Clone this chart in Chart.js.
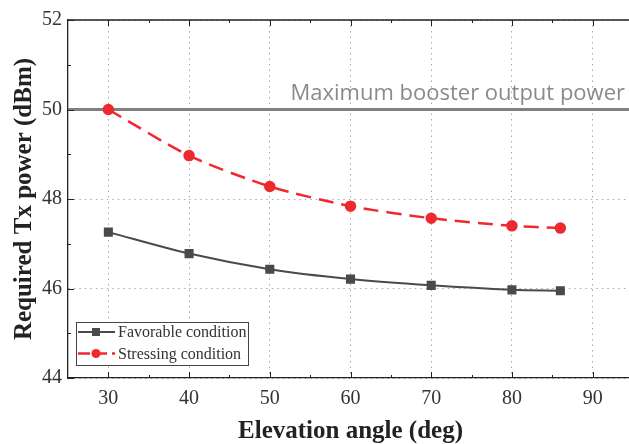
<!DOCTYPE html>
<html>
<head>
<meta charset="utf-8">
<script src="https://cdn.jsdelivr.net/npm/chart.js@4"></script>
<style>
  html, body { margin: 0; padding: 0; background: #fff; overflow: hidden; }
  #wrap { width: 640px; height: 444px; }
</style>
</head>
<body>
<div id="wrap"><canvas id="chart"></canvas></div>
<script>
// elevation angles (deg)
const angles = [30, 40, 50, 60, 70, 80, 86];
// required Tx power (dBm)
const favorable = [47.26, 46.78, 46.43, 46.21, 46.07, 45.97, 45.95];
const stressing = [50.0, 48.97, 48.28, 47.84, 47.57, 47.40, 47.35];
// max booster output power
const maxPower = 50;
const maxLabel = 'Maximum booster output power';

const xTicks = [30, 40, 50, 60, 70, 80, 90];
const xMinor = [35, 45, 55, 65, 75, 85];
const yTicks = [44, 46, 48, 50, 52];
const yMinor = [45, 47, 49, 51];

const serif = "'Liberation Serif', 'Times New Roman', serif";

const pts = (ys) => angles.map((a, i) => ({ x: a, y: ys[i] }));

// frame, inward ticks, max label, legend
const extras = {
  id: 'extras',
  afterDraw(chart) {
    const { ctx, chartArea: ca, scales: { x, y } } = chart;
    ctx.save();
    ctx.strokeStyle = '#222';
    ctx.lineWidth = 1.3;
    // top/right frame
    ctx.beginPath();
    ctx.moveTo(ca.left, ca.top); ctx.lineTo(ca.right, ca.top); ctx.lineTo(ca.right, ca.bottom);
    ctx.stroke();
    // inward ticks
    ctx.lineWidth = 1;
    ctx.beginPath();
    xTicks.forEach(v => {
      const px = Math.round(x.getPixelForValue(v)) + 0.5;
      ctx.moveTo(px, ca.bottom); ctx.lineTo(px, ca.bottom - 6);
      ctx.moveTo(px, ca.top); ctx.lineTo(px, ca.top + 6);
    });
    xMinor.forEach(v => {
      const px = Math.round(x.getPixelForValue(v)) + 0.5;
      ctx.moveTo(px, ca.bottom); ctx.lineTo(px, ca.bottom - 3);
      ctx.moveTo(px, ca.top); ctx.lineTo(px, ca.top + 3);
    });
    yTicks.forEach(v => {
      const py = Math.round(y.getPixelForValue(v)) + 0.5;
      ctx.moveTo(ca.left, py); ctx.lineTo(ca.left + 6, py);
    });
    yMinor.forEach(v => {
      const py = Math.round(y.getPixelForValue(v)) + 0.5;
      ctx.moveTo(ca.left, py); ctx.lineTo(ca.left + 3, py);
    });
    ctx.stroke();

    // max line label
    ctx.fillStyle = '#8a8a8a';
    ctx.font = "22px 'Open Sans', 'Noto Sans', sans-serif";
    ctx.textAlign = 'right';
    ctx.textBaseline = 'alphabetic';
    ctx.fillText(maxLabel, 625, y.getPixelForValue(maxPower) - 10);

    // legend
    const lx = ca.left + 8, ly = ca.bottom - 56, lw = 172, lh = 43;
    ctx.fillStyle = '#fff';
    ctx.fillRect(lx, ly, lw, lh);
    ctx.strokeStyle = '#444';
    ctx.lineWidth = 1;
    ctx.strokeRect(lx + 0.5, ly + 0.5, lw, lh);
    chart.data.datasets.slice(0, 2).forEach((ds, i) => {
      const cy = ly + 10 + i * 21.5;
      ctx.save();
      ctx.strokeStyle = ds.borderColor;
      ctx.lineWidth = ds.borderWidth;
      ctx.setLineDash(ds.borderDash ? [12, 5] : []);
      ctx.beginPath();
      ctx.moveTo(lx + 2, cy); ctx.lineTo(lx + 39, cy);
      ctx.stroke();
      ctx.restore();
      ctx.fillStyle = ds.pointBackgroundColor;
      if (ds.pointStyle === 'rect') {
        ctx.fillRect(lx + 16, cy - 4, 8, 8);
      } else {
        ctx.beginPath(); ctx.arc(lx + 20, cy, 4.5, 0, Math.PI * 2); ctx.fill();
      }
      ctx.fillStyle = '#333';
      ctx.font = '16px ' + serif;
      ctx.textAlign = 'left';
      ctx.textBaseline = 'middle';
      ctx.fillText(ds.label, lx + 42, cy + 1);
    });
    ctx.restore();
  }
};

new Chart(document.getElementById('chart'), {
  type: 'line',
  data: {
    datasets: [
      {
        label: 'Favorable condition',
        data: pts(favorable),
        borderColor: '#4a4a4a',
        backgroundColor: '#4a4a4a',
        pointBackgroundColor: '#4a4a4a',
        pointBorderColor: '#4a4a4a',
        borderWidth: 2,
        pointStyle: 'rect',
        pointRadius: 5,
        tension: 0.3
      },
      {
        label: 'Stressing condition',
        data: pts(stressing),
        borderColor: '#ee2a2e',
        backgroundColor: '#ee2a2e',
        pointBackgroundColor: '#ee2a2e',
        pointBorderColor: '#ee2a2e',
        borderWidth: 2.5,
        borderDash: [15, 8],
        pointStyle: 'circle',
        pointRadius: 4.5,
        tension: 0.25
      },
      {
        label: maxLabel,
        data: [{ x: 25, y: maxPower }, { x: 95, y: maxPower }],
        borderColor: '#808080',
        borderWidth: 3,
        pointRadius: 0
      }
    ]
  },
  options: {
    responsive: true,
    maintainAspectRatio: false,
    animation: false,
    layout: { padding: { top: 20, right: 3, left: 0, bottom: 0 } },
    plugins: { legend: { display: false }, tooltip: { enabled: false } },
    scales: {
      x: {
        type: 'linear',
        min: 25,
        max: 95,
        afterBuildTicks: s => { s.ticks = xTicks.map(v => ({ value: v })); },
        afterFit: s => { s.height = 66; },
        grid: { color: '#aaaaaa', drawTicks: false },
        border: { color: '#222', width: 1.3, dash: [1.5, 4] },
        ticks: { color: '#333', padding: 9, font: { family: serif, size: 20 } },
        title: {
          display: true, text: 'Elevation angle (deg)', color: '#222',
          font: { family: serif, size: 25, weight: 'bold' }, padding: { top: 0, bottom: -3 }
        }
      },
      y: {
        min: 44,
        max: 52,
        afterBuildTicks: s => { s.ticks = yTicks.map(v => ({ value: v })); },
        afterFit: s => { s.width = 68; },
        grid: { color: '#aaaaaa', drawTicks: false },
        border: { color: '#222', width: 1.3, dash: [1.5, 4] },
        ticks: { color: '#333', padding: 6, font: { family: serif, size: 20 } },
        title: {
          display: true, text: 'Required Tx power (dBm)', color: '#222',
          font: { family: serif, size: 25, weight: 'bold' }, padding: { top: 10, bottom: 0 }
        }
      }
    }
  },
  plugins: [extras]
});
</script>
</body>
</html>
